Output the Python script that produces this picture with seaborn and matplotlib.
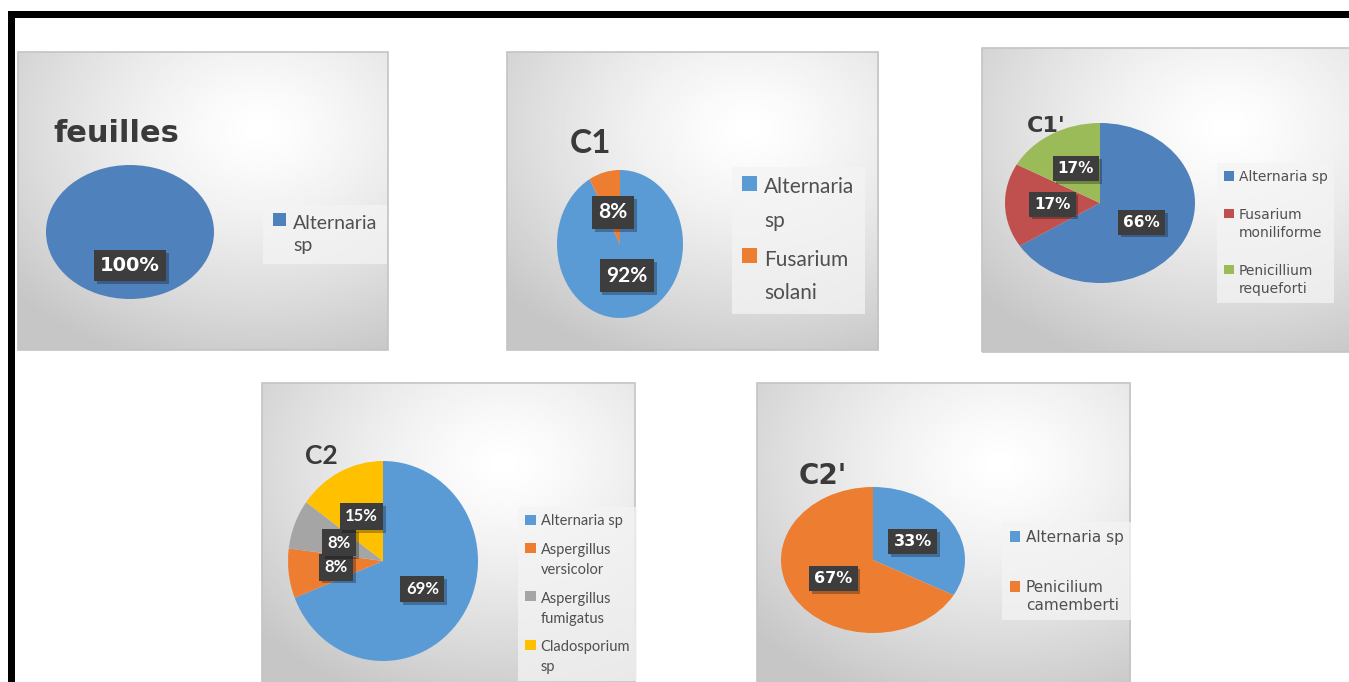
import numpy as np
import matplotlib
matplotlib.use("Agg")
import matplotlib.pyplot as plt
import matplotlib.patheffects as pe
from matplotlib.patches import Rectangle
from matplotlib.legend_handler import HandlerPatch
import seaborn as sns

sns.set_theme(style="white")
plt.rcParams['font.family'] = ['DejaVu Sans']

# ---------------- data ----------------
feuilles_labels = ['Alternaria\nsp']
feuilles_vals = [100]

c1_labels = ['Alternaria\nsp', 'Fusarium\nsolani']
c1_vals = [92, 8]

c1p_labels = ['Alternaria sp', 'Fusarium\nmoniliforme', 'Penicillium\nrequeforti']
c1p_vals = [66, 17, 17]

c2_labels = ['Alternaria sp', 'Aspergillus\nversicolor', 'Aspergillus\nfumigatus', 'Cladosporium\nsp']
c2_vals = [69, 8, 8, 15]

c2p_labels = ['Alternaria sp', 'Penicilium\ncamemberti']
c2p_vals = [33, 67]

titles = ['feuilles', 'C1', "C1'", 'C2', "C2'"]

pal07 = sns.color_palette(['#4F81BD', '#C0504D', '#9BBB59'])
pal13 = sns.color_palette(['#5B9BD5', '#ED7D31', '#A5A5A5', '#FFC000'])

W, H = 1349, 682
fig = plt.figure(figsize=(W / 100, H / 100), dpi=100)
fig.patch.set_facecolor('white')


def fx(x):
    return x / W


def fy(y):
    return 1 - y / H


def rect(x0, y0, x1, y1):
    return [fx(x0), fy(y1), (x1 - x0) / W, (y1 - y0) / H]


# gradient background
gy, gx = np.mgrid[0:1:200j, 0:1:200j]


def background(x0, y0, x1, y1):
    ax = fig.add_axes(rect(x0, y0, x1, y1))
    d = np.sqrt(((gx - 0.65) / 0.9) ** 2 + ((gy - 0.26) / 0.85) ** 2)
    v = np.clip(1.0 - 0.23 * d ** 1.3, 0.775, 1.0)
    ax.imshow(v, cmap='gray', vmin=0, vmax=1, extent=(0, 1, 1, 0), aspect='auto',
              interpolation='bilinear')
    ax.set_xlim(0, 1)
    ax.set_ylim(1, 0)
    ax.axis('off')
    ax.add_patch(Rectangle((0, 0), 1, 1, transform=ax.transAxes, fill=False,
                           ec='#c4c4c4', lw=1.2, clip_on=False))
    return ax


def first_line_handler(shift_pts):
    # square marker aligned with the first line of a multi-line legend label
    def make(legend, orig_handle, xdescent, ydescent, width, height, fontsize):
        return Rectangle((-xdescent, -ydescent + shift_pts), width, height)
    return HandlerPatch(patch_func=make)


panels = [
    dict(bg=(18, 52, 388, 350), pie=(130, 232, 84, 67), vals=feuilles_vals, labels=feuilles_labels,
         pal=pal07, pctd=0.5, pfont='DejaVu Sans', psize=14, title=titles[0], tfont='DejaVu Sans',
         tsize=22, tpos=(53, 142), leg=(263, 205), lfont='Lato', lsize=14, lls=1.4, lsp=0.5),
    dict(bg=(507, 52, 878, 350), pie=(620, 244, 63, 74), vals=c1_vals, labels=c1_labels,
         pal=pal13, pctd=0.44, pfont='Lato', psize=15, title=titles[1], tfont='Lato',
         tsize=24, tpos=(570, 153), leg=(732, 167), lfont='Lato', lsize=15, lls=1.85, lsp=0.9),
    dict(bg=(982, 48, 1356, 352), pie=(1100, 203, 95, 80), vals=c1p_vals, labels=c1p_labels,
         pal=pal07, pctd=0.5, pfont='DejaVu Sans', psize=11, title=titles[2], tfont='DejaVu Sans',
         tsize=16, tpos=(1027, 132), leg=(1217, 163), lfont='DejaVu Sans', lsize=10, lls=1.4, lsp=1.7),
    dict(bg=(262, 383, 635, 690), pie=(383, 561, 95, 100), vals=c2_vals, labels=c2_labels,
         pal=pal13, pctd=0.5, pfont='Lato', psize=12, title=titles[3], tfont='Lato',
         tsize=19, tpos=(305, 464), leg=(518, 507), lfont='Lato', lsize=10.5, lls=1.55, lsp=1.0),
    dict(bg=(757, 383, 1130, 690), pie=(873, 560, 92, 73), vals=c2p_vals, labels=c2p_labels,
         pal=pal13, pctd=0.5, pfont='DejaVu Sans', psize=11.5, title=titles[4], tfont='DejaVu Sans',
         tsize=20, tpos=(799, 484), leg=(1002, 522), lfont='DejaVu Sans', lsize=11, lls=1.25, lsp=2.3),
]

for p in panels:
    background(*p['bg'])
    cx, cy, rx, ry = p['pie']
    ax = fig.add_axes(rect(cx - rx, cy - ry, cx + rx, cy + ry))
    wedges, _, autotexts = ax.pie(
        p['vals'], colors=p['pal'][:len(p['vals'])], startangle=90, counterclock=False,
        autopct=lambda v: f'{round(v)}%', pctdistance=p['pctd'],
        wedgeprops=dict(linewidth=0), radius=1)
    ax.set_aspect('auto')
    ax.set_xlim(-1, 1)
    ax.set_ylim(-1, 1)
    ax.axis('off')
    for t in autotexts:
        t.set_color('white')
        t.set_fontweight('bold')
        t.set_fontsize(p['psize'])
        t.set_fontfamily(p['pfont'])
        t.set_bbox(dict(boxstyle='square,pad=0.32', fc='#3d3d3d', ec='none'))
        t.get_bbox_patch().set_path_effects(
            [pe.SimplePatchShadow(offset=(2, -2), shadow_rgbFace='black', alpha=0.28), pe.Normal()])
    fig.text(fx(p['tpos'][0]), fy(p['tpos'][1]), p['title'], fontsize=p['tsize'],
             fontweight='bold', family=p['tfont'], color='#3a3a3a', va='baseline', ha='left')
    hmap = {}
    for w, lab in zip(wedges, p['labels']):
        n = lab.count('\n') + 1
        hmap[w] = first_line_handler((n - 1) * 0.5 * p['lls'] * p['lsize'] * 1.12)
    leg = ax.legend(wedges, p['labels'], loc='upper left',
                    bbox_to_anchor=(fx(p['leg'][0]), fy(p['leg'][1])),
                    bbox_transform=fig.transFigure, frameon=True, fancybox=False,
                    borderaxespad=0, borderpad=0.5, handlelength=0.7, handleheight=0.7,
                    handletextpad=0.35, labelspacing=p['lsp'], handler_map=hmap,
                    prop=dict(family=p['lfont'], size=p['lsize']))
    fr = leg.get_frame()
    fr.set_facecolor('#f4f4f4')
    fr.set_alpha(0.75)
    fr.set_edgecolor('none')
    for t in leg.get_texts():
        t.set_color('#505050')
        t.set_linespacing(p['lls'])

# black frame lines (top and left)
fig.patches.append(Rectangle((fx(8), fy(18)), 1 - fx(8), 7 / H, transform=fig.transFigure,
                             fc='black', ec='none', zorder=10))
fig.patches.append(Rectangle((fx(8), 0), 7 / W, fy(11), transform=fig.transFigure,
                             fc='black', ec='none', zorder=10))

fig.savefig('out.png', dpi=100, facecolor='white')
